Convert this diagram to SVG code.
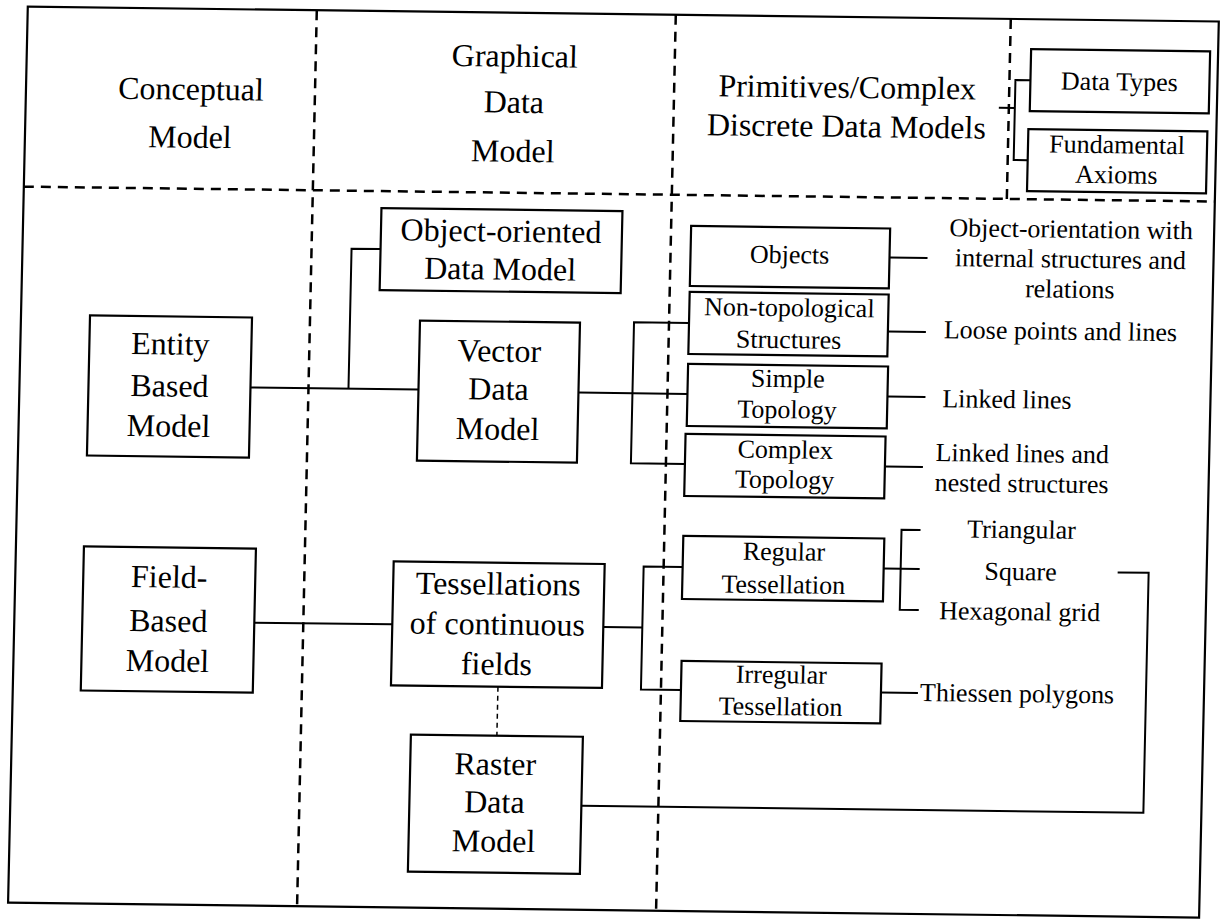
<svg xmlns="http://www.w3.org/2000/svg" width="1223" height="921" viewBox="0 0 1223 921">
<style>
.box{fill:#fff;stroke:#000;stroke-width:2.2}
.ln{fill:none;stroke:#000;stroke-width:2}
.dash{fill:none;stroke:#000;stroke-width:2.5;stroke-dasharray:10 7}
.tdash{fill:none;stroke:#000;stroke-width:1.5;stroke-dasharray:5 4}
.t{font-family:"Liberation Serif","Times New Roman",serif;font-size:32px;text-anchor:middle;fill:#000}
.s{font-size:26px}
.st{text-anchor:start}
</style>
<rect width="1223" height="921" fill="#fff"/>
<g transform="matrix(1 0.0125 -0.022 1 10.1 -7.6)">
  <g id="frame">
    <rect x="18" y="14" width="1191" height="896" fill="none" stroke="#000" stroke-width="2.2"/>
    <path class="dash" d="M18 194 H1209"/>
    <path class="dash" d="M307 14 V910"/>
    <path class="dash" d="M666 14 V910"/>
    <path class="dash" d="M1001 14 V194"/>
  </g>
  <g id="connectors">
    <path class="ln" d="M249 392 H417"/>
    <path class="ln" d="M347 392 V252 H376"/>
    <path class="ln" d="M577 393 H686"/>
    <path class="ln" d="M686 322 H631 V463 H685"/>
    <path class="ln" d="M885 254 H923"/>
    <path class="ln" d="M885 328 H923"/>
    <path class="ln" d="M886 393 H924"/>
    <path class="ln" d="M885 463 H923"/>
    <path class="ln" d="M258 627 H396"/>
    <path class="ln" d="M607 627 H646"/>
    <path class="ln" d="M685 566 H646 V689 H686"/>
    <path class="ln" d="M886 565 H922"/>
    <path class="ln" d="M922 526 H903 V606 H922"/>
    <path class="ln" d="M1120 566 H1151 V806 H589"/>
    <path class="ln" d="M886 689 H923"/>
    <path class="tdash" d="M503 688 V737"/>
    <path class="ln" d="M1022 75 H1007 V155 H1021"/>
    <path class="ln" d="M991 103 H1007"/>
  </g>
  <g id="header-conceptual">
    <text class="t" x="183" y="105">Conceptual</text>
    <text class="t" x="183" y="153">Model</text>
  </g>
  <g id="header-graphical">
    <text class="t" x="506" y="68">Graphical</text>
    <text class="t" x="506" y="114">Data</text>
    <text class="t" x="506" y="163">Model</text>
  </g>
  <g id="header-primitives">
    <text class="t" x="839" y="95">Primitives/Complex</text>
    <text class="t" x="839" y="134">Discrete Data Models</text>
  </g>
  <g id="data-types">
    <rect class="box" x="1022" y="44" width="179" height="62"/>
    <text class="t s" x="1111" y="84">Data Types</text>
  </g>
  <g id="fundamental-axioms">
    <rect class="box" x="1021" y="124" width="179" height="62"/>
    <text class="t s" x="1110" y="147">Fundamental</text>
    <text class="t s" x="1110" y="177">Axioms</text>
  </g>
  <g id="entity">
    <rect class="box" x="87" y="322" width="162" height="140"/>
    <text class="t" x="168" y="360">Entity</text>
    <text class="t" x="168" y="402">Based</text>
    <text class="t" x="168" y="442">Model</text>
  </g>
  <g id="field">
    <rect class="box" x="86" y="553" width="172" height="144"/>
    <text class="t" x="172" y="593">Field-</text>
    <text class="t" x="172" y="637">Based</text>
    <text class="t" x="172" y="677">Model</text>
  </g>
  <g id="oodm">
    <rect class="box" x="376" y="211" width="241" height="82"/>
    <text class="t" x="496" y="243">Object-oriented</text>
    <text class="t" x="496" y="281">Data Model</text>
  </g>
  <g id="vector">
    <rect class="box" x="417" y="323" width="160" height="140"/>
    <text class="t" x="497" y="363">Vector</text>
    <text class="t" x="497" y="401">Data</text>
    <text class="t" x="497" y="441">Model</text>
  </g>
  <g id="tessellations">
    <rect class="box" x="396" y="564" width="211" height="124"/>
    <text class="t" x="501" y="596">Tessellations</text>
    <text class="t" x="501" y="636">of continuous</text>
    <text class="t" x="501" y="676">fields</text>
  </g>
  <g id="raster">
    <rect class="box" x="417" y="737" width="172" height="137"/>
    <text class="t" x="502" y="776">Raster</text>
    <text class="t" x="502" y="814">Data</text>
    <text class="t" x="502" y="853">Model</text>
  </g>
  <g id="objects">
    <rect class="box" x="686" y="225" width="199" height="60"/>
    <text class="t s" x="785" y="261">Objects</text>
  </g>
  <g id="non-topological">
    <rect class="box" x="686" y="291" width="199" height="62"/>
    <text class="t s" x="786" y="314">Non-topological</text>
    <text class="t s" x="786" y="346">Structures</text>
  </g>
  <g id="simple-topology">
    <rect class="box" x="686" y="363" width="200" height="62"/>
    <text class="t s" x="786" y="385">Simple</text>
    <text class="t s" x="786" y="416">Topology</text>
  </g>
  <g id="complex-topology">
    <rect class="box" x="685" y="433" width="200" height="62"/>
    <text class="t s" x="785" y="456">Complex</text>
    <text class="t s" x="785" y="486">Topology</text>
  </g>
  <g id="regular">
    <rect class="box" x="685" y="535" width="201" height="63"/>
    <text class="t s" x="786" y="558">Regular</text>
    <text class="t s" x="786" y="591">Tessellation</text>
  </g>
  <g id="irregular">
    <rect class="box" x="686" y="660" width="200" height="60"/>
    <text class="t s" x="786" y="681">Irregular</text>
    <text class="t s" x="786" y="713">Tessellation</text>
  </g>
  <g id="label-objects">
    <text class="t s" x="1066" y="232">Object-orientation with</text>
    <text class="t s" x="1066" y="262">internal structures and</text>
    <text class="t s" x="1066" y="292">relations</text>
  </g>
  <g id="label-loose">
    <text class="t s st" x="941" y="334">Loose points and lines</text>
  </g>
  <g id="label-linked">
    <text class="t s st" x="941" y="403">Linked lines</text>
  </g>
  <g id="label-nested">
    <text class="t s" x="1022" y="457">Linked lines and</text>
    <text class="t s" x="1022" y="487">nested structures</text>
  </g>
  <g id="label-grids">
    <text class="t s" x="1023" y="533">Triangular</text>
    <text class="t s" x="1023" y="575">Square</text>
    <text class="t s" x="1023" y="615">Hexagonal grid</text>
  </g>
  <g id="label-thiessen">
    <text class="t s st" x="925" y="697">Thiessen polygons</text>
  </g>
</g>
</svg>
